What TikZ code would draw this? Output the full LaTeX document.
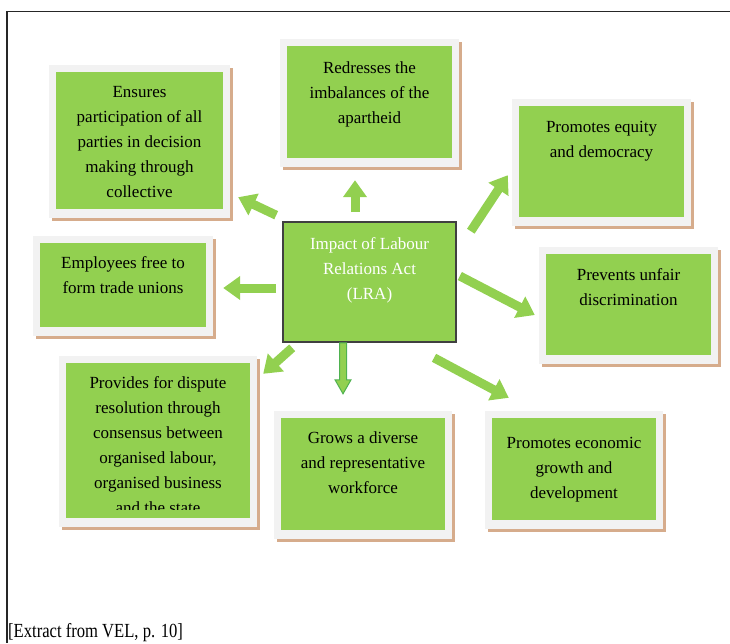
\documentclass[tikz,border=0pt]{standalone}
\usepackage{fontspec}
\setmainfont{Liberation Serif}
\usetikzlibrary{arrows.meta,backgrounds,calc}

\definecolor{leaf}{HTML}{92D050}
\definecolor{paper}{HTML}{F2F2F2}
\definecolor{tan}{HTML}{D6AC8C}
\definecolor{edge}{HTML}{404040}
\definecolor{deep}{HTML}{4FB24F}

\newcommand{\firstline}{\rule{0pt}{17.5pt}}

\tikzset{
  card/.style={fill=leaf, inner sep=0pt},
  hub/.style={fill=leaf, draw=edge, line width=1.6pt, inner sep=0pt},
  caption/.style={align=center, inner sep=0pt, anchor=north, text=black,
    font=\fontsize{17}{25}\selectfont},
  hubtext/.style={caption, text=white},
  push/.style={draw=leaf, line width=9pt, -{Triangle[width=23pt,length=17pt]}},
}

\begin{document}
\begin{tikzpicture}[x=1pt, y=-1pt]
  \useasboundingbox (0,0) rectangle (730,643);

  % outer frame (top and left edges)
  \draw[line width=1.4pt, black!85] (730,11.5) -- (7,11.5) -- (7,643);

  % centre box
  \node[hub, minimum width=173pt, minimum height=120pt] (lra) at (369.5,282) {};

  % surrounding green cards
  \node[card, minimum width=167pt, minimum height=137pt] (ens)  at (139.5,140.5) {};
  \node[card, minimum width=165pt, minimum height=112pt] (red)  at (369.5,102)   {};
  \node[card, minimum width=165pt, minimum height=111pt] (equ)  at (601.5,161.5) {};
  \node[card, minimum width=165pt, minimum height=101pt] (pre)  at (628.5,304.5) {};
  \node[card, minimum width=166pt, minimum height=84pt]  (emp)  at (123,285)     {};
  \node[card, minimum width=184pt, minimum height=155pt] (pro)  at (158,440.5)   {};
  \node[card, minimum width=164pt, minimum height=112pt] (grow) at (363,474)     {};
  \node[card, minimum width=164pt, minimum height=102pt] (eco)  at (574,469)     {};

  % light mount and tan drop shadow behind each card
  \begin{scope}[on background layer]
    \foreach \n in {ens,red,equ,pre,emp,pro,grow,eco} {
      \fill[tan]   ($(\n.north west)+(-3.5,-3.5)$) rectangle ($(\n.south east)+(9.5,12)$);
      \fill[paper] ($(\n.north west)+(-6.5,-6.5)$) rectangle ($(\n.south east)+(6.5,9)$);
    }
  \end{scope}

  % card texts
  \node[caption] (ens-t) at ([yshift=-8pt]ens.north)
    {\firstline Ensures\\participation of all\\parties in decision\\making through\\collective};
  \node[caption] (red-t) at ([yshift=-10pt]red.north)
    {\firstline Redresses the\\imbalances of the\\apartheid};
  \node[caption] (equ-t) at ([yshift=-8.5pt]equ.north)
    {\firstline Promotes equity\\and democracy};
  \node[caption] (pre-t) at ([yshift=-9pt]pre.north)
    {\firstline Prevents unfair\\discrimination};
  \node[caption] (emp-t) at ([yshift=-8pt]emp.north)
    {\firstline Employees free to\\form trade unions};
  \begin{scope}
    % the last line runs past the card and is cut off
    \clip (pro.north west) rectangle ([yshift=9pt]pro.south east);
    \node[caption] (pro-t) at ([yshift=-8pt]pro.north)
      {\firstline Provides for dispute\\resolution through\\consensus between\\organised labour,\\organised business\\and the state};
  \end{scope}
  \node[caption] (grow-t) at ([yshift=-8pt]grow.north)
    {\firstline Grows a diverse\\and representative\\workforce};
  \node[caption] (eco-t) at ([yshift=-13pt]eco.north)
    {\firstline Promotes economic\\growth and\\development};
  \node[hubtext] (lra-t) at ([yshift=-11pt]lra.north)
    {\firstline Impact of Labour\\Relations Act\\(LRA)};

  % arrows radiating from the centre box
  \draw[push] ([shift={(-6,-6)}]lra.north west) -- ([shift={(15,-12)}]ens.south east);
  \draw[push] ([shift={(-14.5,-9)}]lra.north) -- ([shift={(-14.5,22)}]red.south);
  \draw[push] ([shift={(14,10)}]lra.north east) -- ([shift={(-11,-42)}]equ.south west);
  \draw[push] ([shift={(3,-6)}]lra.east) -- ([shift={(-11,10.5)}]pre.west);
  \draw[push] ([shift={(-6,6)}]lra.west) -- ([shift={(17,3)}]emp.east);
  \draw[push] ([shift={(10,5)}]lra.south west) -- ([shift={(13,11)}]pro.north east);
  \draw[push] ([shift={(64.5,15)}]lra.south) -- ([shift={(17,-20)}]eco.north west);

  % outlined block arrow down to the workforce card
  \coordinate (dn-s) at ([xshift=-26.5pt]lra.south);
  \coordinate (dn-e) at ([shift={(-20,-24)}]grow.north);
  \filldraw[fill=leaf, draw=deep, line width=1pt, line join=miter]
    ($(dn-s)+(-3.5,0)$) -- ($(dn-e)+(-3.5,-14)$) -- ($(dn-e)+(-8,-14)$) -- (dn-e)
    -- ($(dn-e)+(8,-14)$) -- ($(dn-e)+(3.5,-14)$) -- ($(dn-s)+(3.5,0)$) -- cycle;

  % source line
  \node[anchor=base west, inner sep=0pt, xscale=0.83, transform shape,
        font=\fontsize{20}{24}\selectfont] (src) at (8,637)
    {[Extract from VEL, p. 10]};
\end{tikzpicture}
\end{document}
